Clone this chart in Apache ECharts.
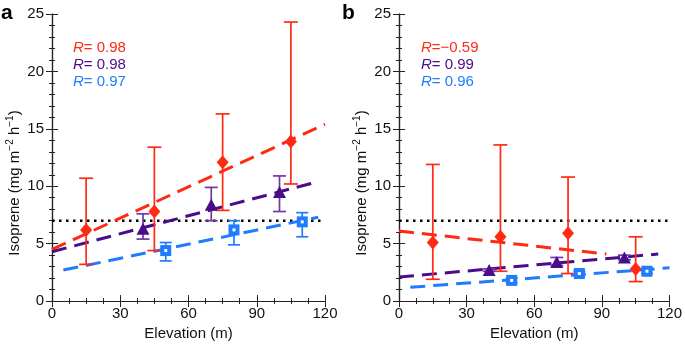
<!DOCTYPE html>
<html>
<head>
<meta charset="utf-8">
<script src="https://cdn.jsdelivr.net/npm/echarts@6/dist/echarts.min.js"></script>
<style>
  html, body { margin: 0; padding: 0; background: #fff; }
  #chart { width: 685px; height: 346px; }
</style>
</head>
<body>
<div id="chart"></div>
<script>
var FONT = 'Liberation Sans';
var RED = '#ff2a14', PUR = '#4a0c8a', PURBAR = '#7436a8', BLU = '#1f7cff';

// elevation of each marker group (m)
var redX = [15, 45, 75, 105];
var purX = [40, 70, 100];
var bluX = [50, 80, 110];
var threshold = 7;

// panel a
var aRedY = [6.2, 7.8, 12.1, 13.9], aRedLo = [3.2, 4.4, 7.9, 10.2], aRedHi = [10.7, 13.4, 16.3, 24.3];
var aPurY = [6.3, 8.4, 9.5], aPurLo = [5.4, 7.0, 7.8], aPurHi = [7.6, 9.9, 10.9];
var aBluY = [4.4, 6.2, 6.9], aBluLo = [3.5, 4.9, 5.6], aBluHi = [5.1, 7.0, 7.7];
var aRedFit = [[0, 4.5], [120, 15.4]];
var aPurFit = [[0, 4.3], [115, 10.3]];
var aBluFit = [[5, 2.7], [117, 7.3]];
var aR = ['0.98', '0.98', '0.97'];

// panel b
var bRedY = [5.1, 5.6, 5.9, 2.8], bRedLo = [1.9, 2.6, 2.4, 1.7], bRedHi = [11.9, 13.6, 10.8, 5.6];
var bPurY = [2.7, 3.4, 3.8], bPurLo = [2.6, 3.1, 3.6], bPurHi = [2.8, 3.8, 4.0];
var bBluY = [1.8, 2.4, 2.6], bBluLo = [1.6, 2.2, 2.4], bBluHi = [2.0, 2.6, 2.8];
var bRedFit = [[0, 6.1], [92, 4.1]];
var bPurFit = [[0, 2.1], [115, 4.1]];
var bBluFit = [[5, 1.2], [120, 2.9]];
var bR = ['\u22120.59', ' 0.99', ' 0.96'];

var chart = echarts.init(document.getElementById('chart'));

function zip(xs, ys) { return xs.map(function (x, i) { return [x, ys[i]]; }); }
function zip3(xs, lo, hi) { return xs.map(function (x, i) { return [x, lo[i], hi[i]]; }); }

function errBars(idx, data, color, half) {
  return {
    type: 'custom', xAxisIndex: idx * 2, yAxisIndex: idx * 2, z: 3,
    data: data,
    encode: { x: 0, y: [1, 2] },
    renderItem: function (params, api) {
      var p1 = api.coord([api.value(0), api.value(1)]);
      var p2 = api.coord([api.value(0), api.value(2)]);
      var st = { stroke: color, lineWidth: 1.7 };
      return { type: 'group', children: [
        { type: 'line', shape: { x1: p1[0], y1: p1[1], x2: p2[0], y2: p2[1] }, style: st },
        { type: 'line', shape: { x1: p1[0] - half, y1: p1[1], x2: p1[0] + half, y2: p1[1] }, style: st },
        { type: 'line', shape: { x1: p2[0] - half, y1: p2[1], x2: p2[0] + half, y2: p2[1] }, style: st }
      ]};
    }
  };
}

function fitLine(idx, data, color) {
  return {
    type: 'line', xAxisIndex: idx * 2, yAxisIndex: idx * 2, z: 2,
    data: data, symbol: 'none', silent: true,
    lineStyle: { color: color, width: 3, type: [15, 8] }
  };
}

function markers(idx, data, color, symbol, size, z) {
  return {
    type: 'scatter', xAxisIndex: idx * 2, yAxisIndex: idx * 2, z: z || 4,
    data: data, symbol: symbol, symbolSize: size,
    itemStyle: { color: color, opacity: 1 }
  };
}

function panelSeries(idx, d) {
  return [
    {
      type: 'line', xAxisIndex: idx * 2, yAxisIndex: idx * 2, z: 1,
      data: [[0, threshold], [120, threshold]], symbol: 'none',
      lineStyle: { color: '#000', width: 2.5, type: [2.5, 4.5] }
    },
    fitLine(idx, d.redFit, RED),
    fitLine(idx, d.purFit, PUR),
    fitLine(idx, d.bluFit, BLU),
    errBars(idx, zip3(redX, d.redLo, d.redHi), RED, 7),
    errBars(idx, zip3(purX, d.purLo, d.purHi), PURBAR, 6.5),
    errBars(idx, zip3(bluX, d.bluLo, d.bluHi), BLU, 6),
    markers(idx, zip(redX, d.redY), RED, 'diamond', [12, 14]),
    markers(idx, zip(purX, d.purY), PUR, 'triangle', [13, 12]),
    markers(idx, zip(bluX, d.bluY), BLU, 'rect', 11),
    markers(idx, zip(bluX, d.bluY), '#ffffff', 'rect', 3, 5)
  ];
}

var grids = [
  { left: 52, top: 14, width: 273, height: 289 },
  { left: 399, top: 14, width: 273, height: 289 }
];

var xAxes = [], yAxes = [];
[0, 1].forEach(function (g) {
  var tickIn = { show: true, inside: true, length: 6, lineStyle: { color: '#222' } };
  var minorIn = { show: true, length: 3, lineStyle: { color: '#222' } };
  var line = { show: true, lineStyle: { color: '#222', width: 1.2 } };
  xAxes.push({
    type: 'value', gridIndex: g, position: 'bottom', min: 0, max: 120, interval: 30,
    axisLine: line, axisTick: tickIn, minorTick: Object.assign({ splitNumber: 4 }, minorIn),
    splitLine: { show: false },
    axisLabel: { color: '#111', fontFamily: FONT, fontSize: 15, margin: 5 },
    name: 'Elevation (m)', nameLocation: 'middle', nameGap: 22,
    nameTextStyle: { color: '#111', fontFamily: FONT, fontSize: 15 }
  });
  xAxes.push({
    type: 'value', gridIndex: g, position: 'top', min: 0, max: 120, interval: 30,
    axisLine: line, axisTick: tickIn, minorTick: Object.assign({ splitNumber: 4 }, minorIn),
    splitLine: { show: false }, axisLabel: { show: false }
  });
  yAxes.push({
    type: 'value', gridIndex: g, position: 'left', min: 0, max: 25, interval: 5,
    axisLine: line, axisTick: tickIn, minorTick: Object.assign({ splitNumber: 5 }, minorIn),
    splitLine: { show: false },
    axisLabel: { color: '#111', fontFamily: FONT, fontSize: 15, margin: 8 }
  });
  yAxes.push({
    type: 'value', gridIndex: g, position: 'right', min: 0, max: 25, interval: 5,
    axisLine: line, axisTick: tickIn, minorTick: Object.assign({ splitNumber: 5 }, minorIn),
    splitLine: { show: false }, axisLabel: { show: false }
  });
});

var series = panelSeries(0, {
  redY: aRedY, redLo: aRedLo, redHi: aRedHi,
  purY: aPurY, purLo: aPurLo, purHi: aPurHi,
  bluY: aBluY, bluLo: aBluLo, bluHi: aBluHi,
  redFit: aRedFit, purFit: aPurFit, bluFit: aBluFit
}).concat(panelSeries(1, {
  redY: bRedY, redLo: bRedLo, redHi: bRedHi,
  purY: bPurY, purLo: bPurLo, purHi: bPurHi,
  bluY: bBluY, bluLo: bBluLo, bluHi: bBluHi,
  redFit: bRedFit, purFit: bPurFit, bluFit: bBluFit
}));

function rText(x, y, val, color) {
  return {
    type: 'text', x: x, y: y,
    style: {
      text: '{i|R}=' + val, fill: color, font: '15px ' + FONT,
      textVerticalAlign: 'middle',
      rich: { i: { fontStyle: 'italic', fontFamily: FONT, fontSize: 15, fill: color } }
    }
  };
}

function yName(x) {
  return {
    type: 'text', x: x, y: 183, rotation: Math.PI / 2,
    style: {
      text: 'Isoprene (mg m{sup|\u22122} h{sup|\u22121})',
      fill: '#111', font: '15px ' + FONT, textAlign: 'center', textVerticalAlign: 'middle',
      rich: { sup: { fontSize: 10, fontFamily: FONT, fill: '#111', verticalAlign: 'bottom', padding: [0, 0, 9, 0] } }
    }
  };
}

var graphics = [
  { type: 'text', x: 1, y: 3, style: { text: 'a', fill: '#000', font: 'bold 21px ' + FONT } },
  { type: 'text', x: 342, y: 3, style: { text: 'b', fill: '#000', font: 'bold 21px ' + FONT } },
  yName(15), yName(362)
];
var colors = [RED, PUR, BLU];
[0, 1, 2].forEach(function (i) {
  graphics.push(rText(73, 48 + i * 17, ' ' + aR[i], colors[i]));
  graphics.push(rText(421, 48 + i * 17, bR[i], colors[i]));
});

var option = {
  animation: false,
  backgroundColor: '#fff',
  grid: grids,
  xAxis: xAxes,
  yAxis: yAxes,
  series: series,
  graphic: graphics
};
chart.setOption(option);
</script>
</body>
</html>
